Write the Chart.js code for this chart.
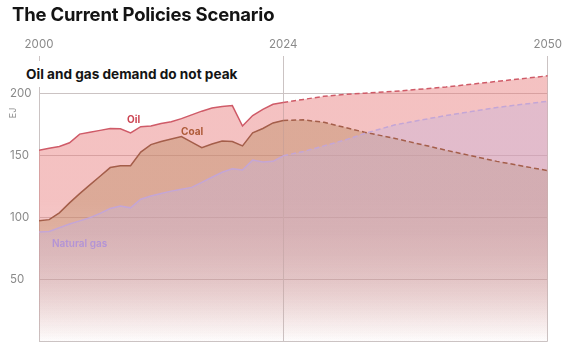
<!DOCTYPE html>
<html>
<head>
<meta charset="utf-8">
<script src="https://cdn.jsdelivr.net/npm/chart.js@4.4.1/dist/chart.umd.min.js"></script>
<style>
  body { margin: 0; background: #fff; font-family: Inter, "Noto Sans", sans-serif; }
  #wrap { position: relative; width: 567px; height: 348px; }
  #wrap canvas { position: absolute; left: 0; top: 0; }
  .lbl { position: absolute; white-space: nowrap; }
  #title { left: 12px; top: 3px; font-size: 18.5px; font-weight: 700; color: #141414; letter-spacing: -0.2px; }
  #sub { left: 20px; top: 61px; padding: 5px 6px; background: #fff; font-size: 13.6px; line-height: 16px; font-weight: 700; color: #141414; }
  #unit { left: 8px; top: 108px; font-size: 9px; line-height: 10px; color: #8a8a8a; transform: rotate(-90deg); }
  .series { font-size: 10px; font-weight: 700; line-height: 12px; }
</style>
</head>
<body>
<div id="wrap">
  <canvas id="chart" width="567" height="348"></canvas>
  <div class="lbl" id="title">The Current Policies Scenario</div>
  <div class="lbl" id="sub">Oil and gas demand do not peak</div>
  <div class="lbl" id="unit">EJ</div>
  <div class="lbl series" style="left:127px; top:113px; color:#cc4452;">Oil</div>
  <div class="lbl series" style="left:181px; top:125px; color:#ae5a38;">Coal</div>
  <div class="lbl series" style="left:52px; top:237px; color:#b394d6; font-weight:600;">Natural gas</div>
</div>
<script>
// années : historique 2000-2024, puis projection
const years = [2000, 2001, 2002, 2003, 2004, 2005, 2006, 2007, 2008, 2009,
               2010, 2011, 2012, 2013, 2014, 2015, 2016, 2017, 2018, 2019,
               2020, 2021, 2022, 2023, 2024,
               2026, 2028, 2030, 2032, 2035, 2040, 2045, 2050];

const oil  = [154, 155.5, 157, 160, 167, 168.5, 170, 171.5, 171.3, 168,
              173, 173.5, 175.5, 177, 179.5, 182.5, 185.5, 188, 189.3, 190,
              173.5, 182, 187, 191, 192.5,
              195, 197.5, 199, 200, 201.5, 205, 209.5, 214];
const coal = [97, 98, 103.5, 111.5, 119, 126, 133, 140, 141.5, 141.5,
              152.5, 158.5, 161, 163, 165, 160.5, 156, 159, 161.5, 161,
              157.5, 168, 171.5, 176, 178,
              178.5, 176.5, 172.5, 168.5, 163.5, 154, 145, 137.5];
const gas  = [88, 88.5, 91.5, 94.5, 97, 99.5, 103, 107, 109, 107.5,
              114.5, 117, 119, 121, 122.5, 124, 128, 132.2, 136.2, 139,
              138, 146, 144.5, 145, 149.5,
              153, 157.5, 162, 167.5, 174.5, 182, 188.5, 193.5];

const lastHistYear = 2024;
const yearTicks = [2000, 2024, 2050];
const ejTicks = [0, 50, 100, 150, 200];

const points = vals => years.map((y, i) => ({ x: y, y: vals[i] }));

// dégradé vertical qui s'efface vers le bas
const fadeStops = [[0, 1], [0.5, 1], [0.62, 0.88], [0.78, 0.55], [0.92, 0.2], [1, 0.03]];
function fade(rgb, a) {
    return c => {
        const area = c.chart.chartArea;
        if (!area) return null;
        const g = c.chart.ctx.createLinearGradient(0, area.top, 0, area.bottom);
        fadeStops.forEach(([t, k]) => g.addColorStop(t, `rgba(${rgb},${a * k})`));
        return g;
    };
}

const dashed = { borderDash: c => c.p0.parsed.x >= lastHistYear ? [5, 3] : undefined };

function serie(label, vals, line, rgb, a, order) {
    return {
        label, data: points(vals), order,
        borderColor: line, borderWidth: 1.5,
        backgroundColor: fade(rgb, a), fill: 'origin',
        pointRadius: 0, tension: 0, segment: dashed
    };
}

const tickFont = { family: 'Inter', size: 11.5 };
const gridColor = '#cbc3c3';

new Chart(document.getElementById('chart'), {
    type: 'line',
    data: {
        datasets: [
            serie('Oil', oil, '#cf5b68', '231,119,119', 0.45, 3),
            serie('Coal', coal, '#a45e4a', '190,140,100', 0.45, 2),
            serie('Natural gas', gas, '#c4a6d6', '199,179,219', 0.4, 1)
        ]
    },
    options: {
        responsive: false,
        animation: false,
        layout: { padding: { left: 10, top: 36, right: 15, bottom: 6 } },
        plugins: {
            legend: { display: false },
            tooltip: { enabled: false },
            filler: { drawTime: 'beforeDatasetsDraw' }
        },
        scales: {
            x: {
                type: 'linear', position: 'top', min: 2000, max: 2050,
                afterBuildTicks: s => { s.ticks = yearTicks.map(v => ({ value: v })); },
                afterFit: s => { s.height = 20; },
                ticks: { callback: v => String(v), color: '#8a8a8a', font: tickFont, padding: 5, maxRotation: 0, autoSkip: false },
                grid: { color: gridColor, drawTicks: false },
                border: { display: false }
            },
            y: {
                min: 0, max: 230,
                afterBuildTicks: s => { s.ticks = ejTicks.map(v => ({ value: v })); },
                afterFit: s => { s.width = 29; },
                ticks: { callback: v => v === 0 ? '' : String(v), crossAlign: 'far', color: '#8a8a8a', font: tickFont, padding: 0 },
                grid: { color: gridColor, drawTicks: false },
                border: { display: false }
            }
        }
    }
});
</script>
</body>
</html>
